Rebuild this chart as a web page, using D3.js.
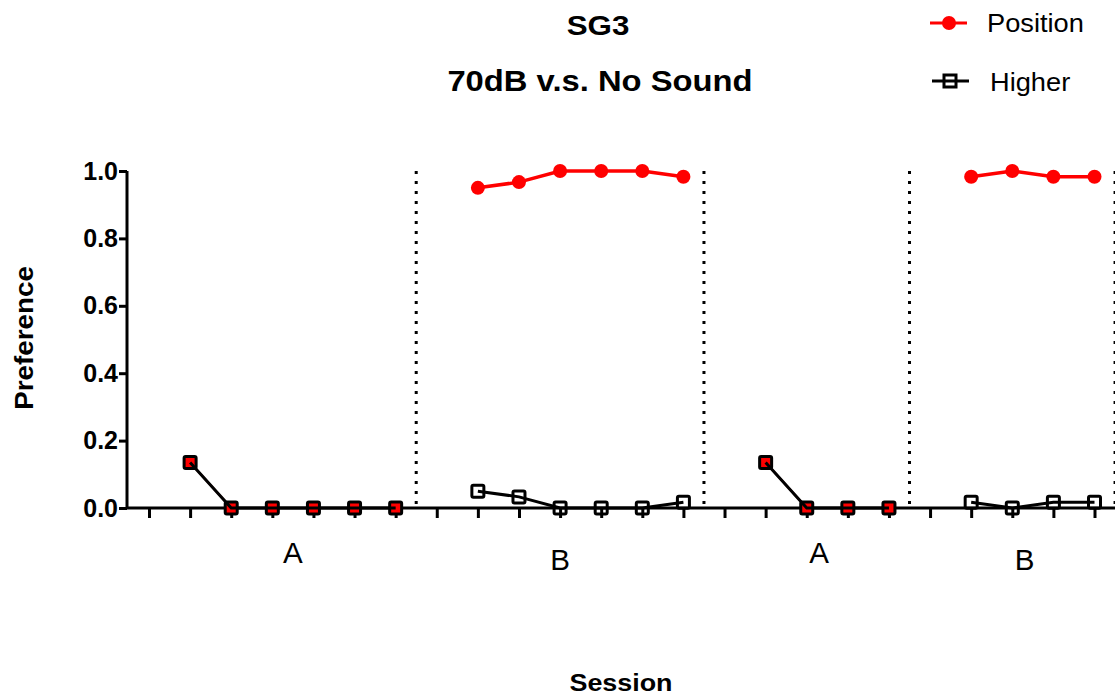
<!DOCTYPE html>
<html>
<head>
<meta charset="utf-8">
<script src="https://cdn.jsdelivr.net/npm/d3@7"></script>
<style>
  body { margin: 0; background: #fff; }
  svg { display: block; font-family: "Liberation Sans", Arial, sans-serif; }
</style>
</head>
<body>
<div id="chart"></div>
<script>
// Sessions per phase, with the matching values for each series
const phases = ["A", "B", "A", "B"];
const phaseSessions = [
    [1, 2, 3, 4, 5, 6],
    [8, 9, 10, 11, 12, 13],
    [15, 16, 17, 18],
    [20, 21, 22, 23]
];
const positionValues = [
    [0.135, 0, 0, 0, 0, 0],
    [0.95, 0.967, 1.0, 1.0, 1.0, 0.983],
    [0.135, 0, 0, 0],
    [0.983, 1.0, 0.983, 0.983]
];
const higherValues = [
    [0.135, 0, 0, 0, 0, 0],
    [0.05, 0.033, 0, 0, 0, 0.017],
    [0.135, 0, 0, 0],
    [0.017, 0, 0.017, 0.017]
];
const phaseBreaks = [6.5, 13.5, 18.5, 23.5];
const phaseLabelPos = [3.5, 10, 16.3, 21.3];
const xTicks = d3.range(0, 24);
const yTicks = [0, 0.2, 0.4, 0.6, 0.8, 1.0];

const width = 1115, height = 696;
const svg = d3.select("#chart").append("svg")
    .attr("width", width)
    .attr("height", height);

const x = d3.scaleLinear().domain([0, 23]).range([149, 1094.5]);
const y = d3.scaleLinear().domain([0, 1]).range([508, 171]);
const x0 = x(-0.535), x1 = x(23.5);

// text stretched a little sideways, like the original export
function label(px, py, txt, size, weight, sx, rot) {
    return svg.append("text")
        .attr("transform", `translate(${px},${py})` + (rot ? ` rotate(${rot})` : "") + ` scale(${sx},1)`)
        .attr("text-anchor", "middle")
        .attr("font-size", size)
        .attr("font-weight", weight)
        .text(txt);
}

// Titles
label(598, 35, "SG3", 28, "bold", 1.12);
label(600, 91, "70dB v.s. No Sound", 29, "bold", 1.13);

// Dotted phase separators
svg.selectAll(".sep").data(phaseBreaks).join("line")
    .attr("class", "sep")
    .attr("x1", d => x(d)).attr("x2", d => x(d))
    .attr("y1", y(1)).attr("y2", y(0))
    .attr("stroke", "#000").attr("stroke-width", 3)
    .attr("stroke-dasharray", "3,7");

// Y axis
const yAxis = svg.append("g").attr("transform", `translate(${x0},0)`)
    .call(d3.axisLeft(y).tickValues(yTicks).tickFormat(d3.format(".1f")).tickSize(8).tickPadding(1));
yAxis.select(".domain").attr("stroke-width", 3).attr("d", `M0,${y(1)}V${y(0)}`);
yAxis.selectAll(".tick line").attr("stroke-width", 3);
yAxis.selectAll(".tick text").attr("font-size", 25).attr("font-weight", "bold")
    .attr("font-family", "Liberation Sans, Arial, sans-serif").attr("fill", "#000");

// X axis
const xAxis = svg.append("g").attr("transform", `translate(0,${y(0)})`)
    .call(d3.axisBottom(x).tickValues(xTicks).tickFormat("").tickSize(10));
xAxis.select(".domain").attr("stroke-width", 3).attr("d", `M${x0},0H${x1}`);
xAxis.selectAll(".tick line").attr("stroke-width", 3);

// Phase labels
phases.forEach((ph, i) => {
    label(x(phaseLabelPos[i]), ph === "A" ? 563 : 570, ph, 29, "normal", 1.02);
});

// Axis titles
label(33, 338, "Preference", 26, "bold", 1.07, -90);
label(621, 691, "Session", 24, "bold", 1.12);

const line = d3.line().x(d => x(d[0])).y(d => y(d[1]));
const sq = 12;

// Position series (red)
phases.forEach((ph, i) => {
    const pts = phaseSessions[i].map((s, j) => [s, positionValues[i][j]]);
    svg.append("path").datum(pts)
        .attr("d", line).attr("fill", "none")
        .attr("stroke", ph === "A" ? "#c00000" : "#ff0000").attr("stroke-width", ph === "A" ? 2 : 3.5);
    if (ph === "A") {
        svg.selectAll(null).data(pts).join("rect")
            .attr("x", d => x(d[0]) - sq / 2).attr("y", d => y(d[1]) - sq / 2)
            .attr("width", sq).attr("height", sq).attr("fill", "#ff0000");
    } else {
        svg.selectAll(null).data(pts).join("circle")
            .attr("cx", d => x(d[0])).attr("cy", d => y(d[1]))
            .attr("r", 7).attr("fill", "#ff0000");
    }
});

// Higher series (black open squares)
phases.forEach((ph, i) => {
    const pts = phaseSessions[i].map((s, j) => [s, higherValues[i][j]]);
    svg.append("path").datum(pts)
        .attr("d", line).attr("fill", "none")
        .attr("stroke", "#000").attr("stroke-width", 3);
    svg.selectAll(null).data(pts).join("rect")
        .attr("x", d => x(d[0]) - sq / 2).attr("y", d => y(d[1]) - sq / 2)
        .attr("width", sq).attr("height", sq).attr("rx", 1.5)
        .attr("fill", "none").attr("stroke", "#000").attr("stroke-width", 3);
});

// Legend
const leg = svg.append("g");
leg.append("line").attr("x1", 930).attr("x2", 967).attr("y1", 23).attr("y2", 23)
    .attr("stroke", "#ff0000").attr("stroke-width", 3);
leg.append("circle").attr("cx", 949).attr("cy", 23).attr("r", 7).attr("fill", "#ff0000");
leg.append("text").attr("transform", "translate(987,32) scale(1.09,1)")
    .attr("font-size", 25).text("Position");
leg.append("line").attr("x1", 932).attr("x2", 969).attr("y1", 81).attr("y2", 81)
    .attr("stroke", "#000").attr("stroke-width", 3);
leg.append("rect").attr("x", 944).attr("y", 75).attr("width", 12).attr("height", 12)
    .attr("fill", "none").attr("stroke", "#000").attr("stroke-width", 3);
leg.append("text").attr("transform", "translate(990,91) scale(1.09,1)")
    .attr("font-size", 25).text("Higher");
</script>
</body>
</html>
